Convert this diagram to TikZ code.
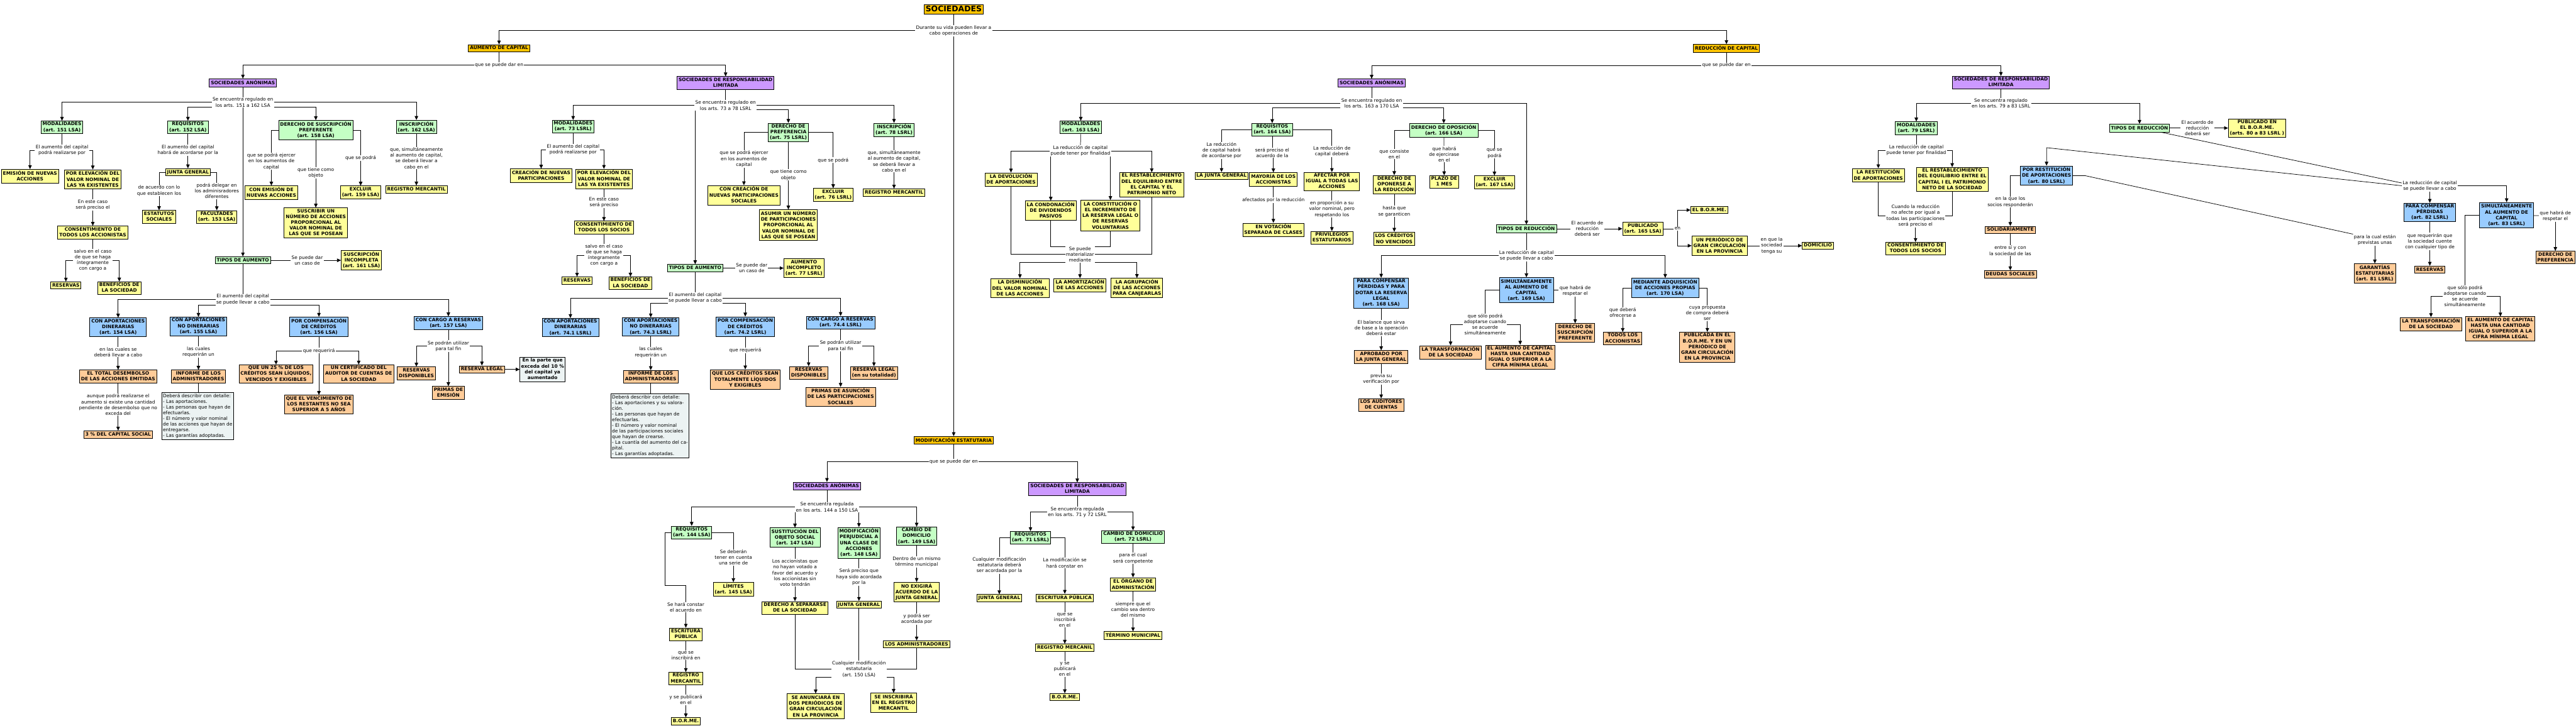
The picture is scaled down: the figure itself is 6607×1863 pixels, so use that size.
\documentclass[tikz,border=0pt]{standalone}
\usepackage{fontspec}
\setmainfont{DejaVu Sans}
\usetikzlibrary{arrows.meta,backgrounds}
\definecolor{cttl}{RGB}{255,196,0}
\definecolor{cpur}{RGB}{204,153,255}
\definecolor{cgrn}{RGB}{196,255,196}
\definecolor{cyel}{RGB}{255,255,153}
\definecolor{cblu}{RGB}{153,204,255}
\definecolor{corg}{RGB}{255,204,153}
\definecolor{cnote}{RGB}{236,243,243}
\tikzset{
  bx/.style={draw=black,line width=1.4pt,font=\bfseries\fontsize{12}{14.8}\selectfont,
    align=center,inner xsep=4pt,inner ysep=3pt,
    execute at begin node={\rule{0pt}{9.5pt}},
    execute at end node={\rule[-3pt]{0pt}{3pt}}},
  ttl/.style={bx,fill=cttl},
  pur/.style={bx,fill=cpur},
  grn/.style={bx,fill=cgrn},
  yel/.style={bx,fill=cyel},
  blu/.style={bx,fill=cblu},
  org/.style={bx,fill=corg},
  nte/.style={bx,fill=cnote,font=\fontsize{12}{14.6}\selectfont,align=left,inner xsep=3pt},
  lbl/.style={font=\fontsize{12}{14.8}\selectfont,align=center,fill=white,inner xsep=2pt,inner ysep=1pt},
  con/.style={line width=1.2pt},
  arr/.style={line width=1.2pt,-{Triangle[length=10pt,width=9pt]}}
}
\begin{document}
\begin{tikzpicture}[x=1pt,y=-1pt]
\useasboundingbox (0,0) rectangle (6607,1863);
% ===== top
\node[ttl,font=\bfseries\fontsize{20}{24}\selectfont] (SOC) at (2446,24) {SOCIEDADES};
\node[lbl] (L0) at (2446,78.5) {Durante su vida pueden llevar a\\cabo operaciones de};
\node[ttl] (AUM) at (1280,124) {AUMENTO DE CAPITAL};
\node[ttl] (RED) at (4428,124) {REDUCCIÓN DE CAPITAL};
\node[ttl] (MODE) at (2446,1130) {MODIFICACIÓN ESTATUTARIA};
% ===== aumento SA
\node[lbl] (Laum) at (1280,167) {que se puede dar en};
\node[pur] (SAA) at (623,212.5) {SOCIEDADES ANÓNIMAS};
\node[pur] (SRLA) at (1861,213) {SOCIEDADES DE RESPONSABILIDAD\\LIMITADA};
\node[lbl] (Lsaa) at (623,262.5) {Se encuentra regulado en\\los arts. 151 a 162 LSA};
\node[grn] (MOD151) at (159,327) {MODALIDADES\\(art. 151 LSA)};
\node[grn] (REQ152) at (482,327) {REQUISITOS\\(art. 152 LSA)};
\node[grn] (DSP158) at (810,334) {DERECHO DE SUSCRIPCIÓN\\PREFERENTE\\(art. 158 LSA)};
\node[grn] (INS162) at (1068,326) {INSCRIPCIÓN\\(art. 162 LSA)};
\node[lbl] (Lm151) at (159,385.5) {El aumento del capital\\podrá realizarse por};
\node[yel] (EMI) at (77,452) {EMISIÓN DE NUEVAS\\ACCIONES};
\node[yel] (ELEV) at (238,460.5) {POR ELEVACIÓN DEL\\VALOR NOMINAL DE\\LAS YA EXISTENTES};
\node[lbl] (Lelev) at (238,526) {En este caso\\será preciso el};
\node[yel] (CACC) at (238,596.5) {CONSENTIMIENTO DE\\TODOS LOS ACCIONISTAS};
\node[lbl] (Lcacc) at (238,668) {salvo en el caso\\de que se haga\\íntegramente\\con cargo a};
\node[yel] (RES1) at (169,732.6) {RESERVAS};
\node[yel] (BEN1) at (306,739.6) {BENEFICIOS DE\\LA SOCIEDAD};
\node[lbl] (Lr152) at (482,386) {El aumento del capital\\habrá de acordarse por la};
\node[yel] (JG1) at (482,442) {JUNTA GENERAL};
\node[lbl] (Ljga) at (408,489.6) {de acuerdo con lo\\que establecen los};
\node[lbl] (Ljgb) at (556,490) {podrá delegar en\\los adminisradores\\diferentes};
\node[yel] (EST) at (408,556.5) {ESTATUTOS\\SOCIALES};
\node[yel] (FAC) at (556,556.7) {FACULTADES\\(art. 153 LSA)};
\node[lbl] (Ld1) at (696,414) {que se podrá ejercer\\en los aumentos de\\capital};
\node[yel] (CEM) at (696,494.5) {CON EMISIÓN DE\\NUEVAS ACCIONES};
\node[lbl] (Ld2) at (810,443) {que tiene como\\objeto};
\node[yel] (SUSC) at (810,572) {SUSCRIBIR UN\\NÚMERO DE ACCIONES\\PROPORCIONAL AL\\VALOR NOMINAL DE\\LAS QUE SE POSEAN};
\node[lbl] (Ld3) at (925,405) {que se podrá};
\node[yel] (EXC159) at (925,493.6) {EXCLUIR\\(art. 159 LSA)};
\node[lbl] (Li162) at (1068,405.6) {que, simultáneamente\\al aumento de capital,\\se deberá llevar a\\cabo en el};
\node[yel] (RM1) at (1068,486) {REGISTRO MERCANTIL};
\node[grn] (TASA) at (623,668) {TIPOS DE AUMENTO};
\node[lbl] (Ltsa) at (788,668) {Se puede dar\\un caso de};
\node[yel] (SINC) at (927,668) {SUSCRIPCIÓN\\INCOMPLETA\\(art. 161 LSA)};
\node[lbl] (Ltsa2) at (623,768.6) {El aumento del capital\\se puede llevar a cabo};
\node[blu] (CAD154) at (303,839.6) {CON APORTACIONES\\DINERARIAS\\(art. 154 LSA)};
\node[blu] (CAND155) at (509,837.6) {CON APORTACIONES\\NO DINERARIAS\\(art. 155 LSA)};
\node[blu] (PCC156) at (818,838.6) {POR COMPENSACIÓN\\DE CRÉDITOS\\(art. 156 LSA)};
\node[blu] (CCR157) at (1150,829) {CON CARGO A RESERVAS\\(art. 157 LSA)};
\node[lbl] (Lc154) at (303,903) {en las cuales se\\deberá llevar a cabo};
\node[org] (TDES) at (303,966) {EL TOTAL DESEMBOLSO\\DE LAS ACCIONES EMITIDAS};
\node[lbl] (Ltdes) at (303,1038.5) {aunque podrá realizarse el\\aumento si existe una cantidad\\pendiente de desembolso que no\\exceda del};
\node[org] (P3) at (303,1115) {3 \% DEL CAPITAL SOCIAL};
\node[lbl] (Lc155) at (509,903) {las cuales\\requerirán un};
\node[org] (INF1) at (509,966) {INFORME DE LOS\\ADMINISTRADORES};
\node[nte] (NOTE1) at (507,1068) {Deberá describir con detalle:\\- Las aportaciones.\\- Las personas que hayan de\\efectuarlas.\\- El número y valor nominal\\de las acciones que hayan de\\entregarse.\\- Las garantías adoptadas.};
\node[lbl] (Lc156) at (818,900) {que requerirá};
\node[org] (Q25) at (708,960) {QUE UN 25 \% DE LOS\\CRÉDITOS SEAN LÍQUIDOS,\\VENCIDOS Y EXIGIBLES};
\node[org] (CERT) at (920,960) {UN CERTIFICADO DEL\\AUDITOR DE CUENTAS DE\\LA SOCIEDAD};
\node[org] (VENC) at (818,1038) {QUE EL VENCIMIENTO DE\\LOS RESTANTES NO SEA\\SUPERIOR A 5 AÑOS};
\node[lbl] (Lc157) at (1150,888) {Se podrán utilizar\\para tal fin};
\node[org] (RDISP1) at (1068,958) {RESERVAS\\DISPONIBLES};
\node[org] (RLEG1) at (1236,948) {RESERVA LEGAL};
\node[org] (PRIM1) at (1150,1008) {PRIMAS DE\\EMISIÓN};
\node[nte,font=\bfseries\fontsize{12}{14.8}\selectfont,align=center] (NOTE2) at (1391.5,948) {En la parte que\\exceda del 10 \%\\del capital ya\\aumentado};
% ===== aumento SRL
\node[lbl] (Lsrla) at (1861,270.5) {Se encuentra regulado en\\los arts. 73 a 78 LSRL};
\node[grn] (MOD73) at (1470,325) {MODALIDADES\\(art. 73 LSRL)};
\node[lbl] (Lm73) at (1470,384) {El aumento del capital\\podrá realizarse por};
\node[yel] (CRE) at (1388,451) {CREACIÓN DE NUEVAS\\PARTICIPACIONES};
\node[yel] (ELEV2) at (1549,459) {POR ELEVACIÓN DEL\\VALOR NOMINAL DE\\LAS YA EXISTENTES};
\node[lbl] (Lel2) at (1549,520) {En este caso\\será preciso};
\node[yel] (CSOC) at (1549,584) {CONSENTIMIENTO DE\\TODOS LOS SOCIOS};
\node[lbl] (Lcs) at (1549,655) {salvo en el caso\\de que se haga\\íntegramente\\con cargo a};
\node[yel] (RES2) at (1480,720) {RESERVAS};
\node[yel] (BEN2) at (1617,727) {BENEFICIOS DE\\LA SOCIEDAD};
\node[grn] (DP75) at (2022,340) {DERECHO DE\\PREFERENCIA\\(art. 75 LSRL)};
\node[lbl] (Ldp1) at (1908,408) {que se podrá ejercer\\en los aumentos de\\capital};
\node[yel] (CCR2) at (1908,501) {CON CREACIÓN DE\\NUEVAS PARTICIPACIONES\\SOCIALES};
\node[lbl] (Ldp2) at (2022,449) {que tiene como\\objeto};
\node[yel] (ASUM) at (2022,578) {ASUMIR UN NÚMERO\\DE PARTICIPACIONES\\PROPORCIONAL AL\\VALOR NOMINAL DE\\LAS QUE SE POSEAN};
\node[lbl] (Ldp3) at (2137,411) {que se podrá};
\node[yel] (EXC76) at (2137,500) {EXCLUIR\\(art. 76 LSRL)};
\node[grn] (INS78) at (2293,333.6) {INSCRIPCIÓN\\(art. 78 LSRL)};
\node[lbl] (Li78) at (2293,414) {que, simultáneamente\\al aumento de capital,\\se deberá llevar a\\cabo en el};
\node[yel] (RM2) at (2293,494) {REGISTRO MERCANTIL};
\node[grn] (TASRL) at (1783,688) {TIPOS DE AUMENTO};
\node[lbl] (Ltsr) at (1928,688) {Se puede dar\\un caso de};
\node[yel] (AINC) at (2062,688) {AUMENTO\\INCOMPLETO\\(art. 77 LSRL)};
\node[lbl] (Ltsr2) at (1783,764.6) {El aumento del capital\\se puede llevar a cabo};
\node[blu] (CAD741) at (1463,840.6) {CON APORTACIONES\\DINERARIAS\\(art. 74.1 LSRL)};
\node[blu] (CAND743) at (1669,839) {CON APORTACIONES\\NO DINERARIAS\\(art. 74.3 LSRL)};
\node[blu] (PCC742) at (1911.5,838) {POR COMPENSACIÓN\\DE CRÉDITOS\\(art. 74.2 LSRL)};
\node[blu] (CCR744) at (2156,828) {CON CARGO A RESERVAS\\(art. 74.4 LSRL)};
\node[lbl] (Lc743) at (1669,904) {las cuales\\requerirán un};
\node[org] (INF2) at (1669,967) {INFORME DE LOS\\ADMINISTRADORES};
\node[nte] (NOTE3) at (1667,1093) {Deberá describir con detalle:\\- Las aportaciones y su valora-\\ción.\\- Las personas que hayan de\\efectuarlas.\\- El número y valor nominal\\de las participaciones sociales\\que hayan de crearse.\\- La cuantía del aumento del ca-\\pital.\\- Las garantías adoptadas.};
\node[lbl] (Lc742) at (1911.5,899) {que requerirá};
\node[org] (QLC) at (1911.5,973.6) {QUE LOS CRÉDITOS SEAN\\TOTALMENTE LÍQUIDOS\\Y EXIGIBLES};
\node[lbl] (Lc744) at (2156,887.5) {Se podrán utilizar\\para tal fin};
\node[org] (RDISP2) at (2074,957) {RESERVAS\\DISPONIBLES};
\node[org] (RLEG2) at (2241.5,957) {RESERVA LEGAL\\(en su totalidad)};
\node[org] (PRIM2) at (2156,1018.5) {PRIMAS DE ASUNCIÓN\\DE LAS PARTICIPACIONES\\SOCIALES};
% ===== reduccion SA
\node[lbl] (Lred) at (4428,167.6) {que se puede dar en};
\node[pur] (SAR) at (3518,213) {SOCIEDADES ANÓNIMAS};
\node[pur] (SRLR) at (5132,212) {SOCIEDADES DE RESPONSABILIDAD\\LIMITADA};
\node[lbl] (Lsar) at (3518,264.6) {Se encuentra regulado en\\los arts. 163 a 170 LSA};
\node[grn] (MOD163) at (2772,327) {MODALIDADES\\(art. 163 LSA)};
\node[lbl] (Lm163) at (2771,387) {La reducción de capital\\puede tener por finalidad};
\node[yel] (DEV) at (2593,461) {LA DEVOLUCIÓN\\DE APORTACIONES};
\node[yel] (REST) at (2954,474) {EL RESTABLECIMIENTO\\DEL EQUILIBRIO ENTRE\\EL CAPITAL Y EL\\PATRIMONIO NETO};
\node[yel] (COND) at (2695,540.6) {LA CONDONACIÓN\\DE DIVIDENDOS\\PASIVOS};
\node[yel] (CONST) at (2848,553.7) {LA CONSTITUCIÓN O\\EL INCREMENTO DE\\LA RESERVA LEGAL O\\DE RESERVAS\\VOLUNTARIAS};
\node[lbl] (Lmat) at (2770,653) {Se puede\\materializar\\mediante};
\node[yel] (DISM) at (2616,739.6) {LA DISMINUCIÓN\\DEL VALOR NOMINAL\\DE LAS ACCIONES};
\node[yel] (AMORT) at (2770,732) {LA AMORTIZACIÓN\\DE LAS ACCIONES};
\node[yel] (AGRUP) at (2916,739) {LA AGRUPACIÓN\\DE LAS ACCIONES\\PARA CANJEARLAS};
\node[grn] (REQ164) at (3263,333) {REQUISITOS\\(art. 164 LSA)};
\node[lbl] (Ljgr) at (3133,386) {La reducción\\de capital habrá\\de acordarse por};
\node[yel] (JGR) at (3133,451.5) {LA JUNTA GENERAL};
\node[lbl] (Lreq) at (3263,392) {será preciso el\\acuerdo de la};
\node[yel] (MAYOR) at (3266,460.5) {MAYORÍA DE LOS\\ACCIONISTAS};
\node[lbl] (Lmay) at (3266,514) {afectados por la reducción};
\node[yel] (VOTS) at (3266,590) {EN VOTACIÓN\\SEPARADA DE CLASES};
\node[lbl] (Lafe) at (3416,389) {La reducción de\\capital deberá};
\node[yel] (AFECT) at (3416,466) {AFECTAR POR\\IGUAL A TODAS LAS\\ACCIONES};
\node[lbl] (Lafe2) at (3416,536.6) {en proporción a su\\valor nominal, pero\\respetando los};
\node[yel] (PRIV) at (3416,610) {PRIVILEGIOS\\ESTATUTARIOS};
\node[grn] (DOPOS) at (3703,334.6) {DERECHO DE OPOSICIÓN\\(art. 166 LSA)};
\node[lbl] (Ldo1) at (3576,395.6) {que consiste\\en el};
\node[yel] (DOP) at (3576,474) {DERECHO DE\\OPONERSE A\\LA REDUCCIÓN};
\node[lbl] (Ldo2) at (3704,395.6) {que habrá\\de ejercirase\\en el};
\node[yel] (PLAZO) at (3704,467) {PLAZO DE\\1 MES};
\node[lbl] (Ldo3) at (3833,394) {que se\\podrá};
\node[yel] (EXC167) at (3833,467.5) {EXCLUIR\\(art. 167 LSA)};
\node[lbl] (Ldop) at (3576,542.6) {hasta que\\se garanticen};
\node[yel] (LCNV) at (3576,613) {LOS CRÉDITOS\\NO VENCIDOS};
\node[grn] (TRSA) at (3915,587) {TIPOS DE REDUCCIÓN};
\node[lbl] (Ltrs1) at (4071,587) {El acuerdo de\\reducción\\deberá ser};
\node[yel] (PUB165) at (4213.6,587) {PUBLICADO\\(art. 165 LSA)};
\node[lbl] (Len) at (4302.6,587) {en};
\node[yel] (BORME1) at (4384,539) {EL B.O.R.ME.};
\node[yel] (PER1) at (4410.5,630.5) {UN PERIÓDICO DE\\GRAN CIRCULACIÓN\\EN LA PROVINCIA};
\node[lbl] (Lper) at (4544,630.5) {en que la\\sociedad\\tenga su};
\node[yel] (DOM) at (4662.6,630.5) {DOMICILIO};
\node[lbl] (Ltrs2) at (3915,656) {La reducción de capital\\se puede llevar a cabo};
\node[blu] (PCP168) at (3542.5,752) {PARA COMPENSAR\\PÉRDIDAS Y PARA\\DOTAR LA RESERVA\\LEGAL\\(art. 168 LSA)};
\node[blu] (SIM169) at (3915,744.6) {SIMULTÁNEAMENTE\\AL AUMENTO DE\\CAPITAL\\(art. 169 LSA)};
\node[blu] (MAP170) at (4271,738.8) {MEDIANTE ADQUISICIÓN\\DE ACCIONES PROPIAS\\(art. 170 LSA)};
\node[lbl] (Lpcp) at (3542.5,841.6) {El balance que sirva\\de base a la operación\\deberá estar};
\node[org] (APROB) at (3542.5,916) {APROBADO POR\\LA JUNTA GENERAL};
\node[lbl] (Lapr) at (3542.5,972.6) {previa su\\verificación por};
\node[org] (AUD) at (3542.5,1039.5) {LOS AUDITORES\\DE CUENTAS};
\node[lbl] (Lsim1) at (3809,832.7) {que sólo podrá\\adoptarse cuando\\se acuerde\\simultáneamente};
\node[org] (TRANS1) at (3720.5,904.7) {LA TRANSFORMACIÓN\\DE LA SOCIEDAD};
\node[org] (AUMCAP1) at (3899,916.6) {EL AUMENTO DE CAPITAL\\HASTA UNA CANTIDAD\\IGUAL O SUPERIOR A LA\\CIFRA MÍNIMA LEGAL};
\node[lbl] (Lsim2) at (4040,746) {que habrá de\\respetar el};
\node[org] (DSP2) at (4040,854) {DERECHO DE\\SUSCRIPCIÓN\\PREFERENTE};
\node[lbl] (Lmap1) at (4162,801.5) {que deberá\\ofrecerse a};
\node[org] (TLA) at (4162,869) {TODOS LOS\\ACCIONISTAS};
\node[lbl] (Lmap2) at (4379,803.5) {cuya propuesta\\de compra deberá\\ser};
\node[org] (PUBL2) at (4379,891) {PUBLICADA EN EL\\B.O.R.ME. Y EN UN\\PERIÓDICO DE\\GRAN CIRCULACIÓN\\EN LA PROVINCIA};
% ===== reduccion SRL
\node[lbl] (Lsrlr) at (5132,264.6) {Se encuentra regulado\\en los arts. 79 a 83 LSRL};
\node[grn] (MOD79) at (4915,329) {MODALIDADES\\(art. 79 LSRL)};
\node[lbl] (Lm79) at (4915,385.6) {La reducción de capital\\puede tener por finalidad};
\node[yel] (REST79) at (4817.5,450) {LA RESTITUCIÓN\\DE APORTACIONES};
\node[yel] (RESTAB79) at (5007,460.7) {EL RESTABLECIMIENTO\\DEL EQUILIBRIO ENTRE EL\\CAPITAL I EL PATRIMONIO\\NETO DE LA SOCIEDAD};
\node[lbl] (Lcons) at (4913,553.7) {Cuando la reducción\\no afecte por igual a\\todas las participaciones\\será preciso el};
\node[yel] (CTS2) at (4913,638) {CONSENTIMIENTO DE\\TODOS LOS SOCIOS};
\node[grn] (TRSRL) at (5487.5,328.6) {TIPOS DE REDUCCIÓN};
\node[lbl] (Ltrsr1) at (5636,328.6) {El acuerdo de\\reducción\\deberá ser};
\node[yel] (PUB2) at (5789,328.6) {PUBLICADO EN\\EL B.O.R.ME.\\(arts. 80 a 83 LSRL )};
\node[lbl] (Ltrsr2) at (6232,476.6) {La reducción de capital\\se puede llevar a cabo};
\coordinate (k1) at (5249,379);
\node[blu] (PRA80) at (5249,450.7) {POR RESTITUCIÓN\\DE APORTACIONES\\(art. 80 LSRL)};
\node[lbl] (Lpra1) at (5156,518.6) {en la que los\\socios responderán};
\node[org] (SOLID) at (5156,590) {SOLIDARIAMENTE};
\node[lbl] (Lsol) at (5156,643) {entre sí y con\\la sociedad de las};
\node[org] (DEUD) at (5156,703.6) {DEUDAS SOCIALES};
\coordinate (k2) at (5349,451);
\node[lbl] (Lgar) at (6091,615.5) {para la cual están\\previstas unas};
\node[org] (GAR) at (6091,701.7) {GARANTÍAS\\ESTATUTARIAS\\(art. 81 LSRL)};
\node[blu] (PCP82) at (6232,545) {PARA COMPENSAR\\PÉRDIDAS\\(art. 82 LSRL)};
\node[lbl] (Lp82) at (6232,619.6) {que requerirán que\\la sociedad cuente\\con cualquier tipo de};
\node[org] (RES3) at (6232,692) {RESERVAS};
\node[blu] (SIM83) at (6429,552) {SIMULTÁNEAMENTE\\AL AUMENTO DE\\CAPITAL\\(art. 83 LSRL)};
\node[lbl] (Ls83b) at (6554,554) {que habrá de\\respetar el};
\node[org] (DPREF) at (6554,661) {DERECHO DE\\PREFERENCIA};
\node[lbl] (Ls83a) at (6322,760) {que sólo podrá\\adoptarse cuando\\se acuerde\\simultáneamente};
\node[org] (TRANS2) at (6235,832) {LA TRANSFORMACIÓN\\DE LA SOCIEDAD};
\node[org] (AUMCAP2) at (6413,844) {EL AUMENTO DE CAPITAL\\HASTA UNA CANTIDAD\\IGUAL O SUPERIOR A LA\\CIFRA MÍNIMA LEGAL};
% ===== modificacion
\node[lbl] (Lmode) at (2446,1184.5) {que se puede dar en};
\node[pur] (SAM) at (2121,1247.5) {SOCIEDADES ANÓNIMAS};
\node[pur] (SRLM) at (2763,1255) {SOCIEDADES DE RESPONSABILIDAD\\LIMITADA};
\node[lbl] (Lsam) at (2121,1301.3) {Se encuentra regulada\\en los arts. 144 a 150 LSA};
\node[grn] (REQ144) at (1774,1366.6) {REQUISITOS\\(art. 144 LSA)};
\node[lbl] (Lr144) at (1881,1430.5) {Se deberán\\tener en cuenta\\una serie de};
\node[yel] (LIM) at (1881,1512) {LÍMITES\\(art. 145 LSA)};
\coordinate (k3) at (1705,1503);
\node[lbl] (Lr144b) at (1759,1558) {Se hará constar\\el acuerdo en};
\node[yel] (ESC1) at (1759,1628) {ESCRITURA\\PÚBLICA};
\node[lbl] (Lesc1) at (1759,1682) {que se\\inscribirá en};
\node[yel] (RM4) at (1759,1741.5) {REGISTRO\\MERCANTIL};
\node[lbl] (Lrm4) at (1759,1796) {y se publicará\\en el};
\node[yel] (BORME4) at (1759,1851) {B.O.R.ME.};
\node[grn] (SUST) at (2039,1379.6) {SUSTITUCIÓN DEL\\OBJETO SOCIAL\\(art. 147 LSA)};
\node[lbl] (Lsust) at (2039,1470) {Los accionistas que\\no hayan votado a\\favor del acuerdo y\\los accionistas sin\\voto tendrán};
\node[yel] (DAS) at (2039,1560) {DERECHO A SEPARARSE\\DE LA SOCIEDAD};
\node[grn] (MPC) at (2203,1393) {MODIFICACIÓN\\PERJUDICIAL A\\UNA CLASE DE\\ACCIONES\\(art. 148 LSA)};
\node[lbl] (Lmpc) at (2203,1480.5) {Será preciso que\\haya sido acordada\\por la};
\node[yel] (JGM) at (2203,1552) {JUNTA GENERAL};
\node[grn] (CD149) at (2351,1376) {CAMBIO DE\\DOMICILIO\\(art. 149 LSA)};
\node[lbl] (Lcd) at (2351,1442) {Dentro de un mismo\\término municipal};
\node[yel] (NOEX) at (2351,1519) {NO EXIGIRÁ\\ACUERDO DE LA\\JUNTA GENERAL};
\node[lbl] (Lnoex) at (2351,1589) {y podrá ser\\acordada por};
\node[yel] (LADM) at (2351,1653.6) {LOS ADMINISTRADORES};
\node[lbl] (L150) at (2203,1717) {Cualquier modificación\\estatutaria\\(art. 150 LSA)};
\node[yel] (ANUN) at (2092,1812.6) {SE ANUNCIARÁ EN\\DOS PERIÓDICOS DE\\GRAN CIRCULACIÓN\\EN LA PROVINCIA};
\node[yel] (INSC) at (2292,1803.7) {SE INSCRIBIRÁ\\EN EL REGISTRO\\MERCANTIL};
\node[lbl] (Lsrlm) at (2763,1314) {Se encuentra regulada\\en los arts. 71 y 72 LSRL};
\node[grn] (REQ71) at (2643,1380) {REQUISITOS\\(art. 71 LSRL)};
\node[lbl] (Lr71a) at (2563,1451) {Cualquier modificación\\estatutaria deberá\\ser acordada por la};
\node[yel] (JGM2) at (2563,1535) {JUNTA GENERAL};
\node[lbl] (Lr71b) at (2731,1444.7) {La modificación se\\hará constar en};
\node[yel] (ESC2) at (2731,1534.6) {ESCRITURA PÚBLICA};
\node[lbl] (Lesc2) at (2731,1591) {que se\\inscribirá\\en el};
\node[yel] (RM3) at (2731,1662) {REGISTRO MERCANIL};
\node[lbl] (Lrm3) at (2731,1717) {y se\\publicará\\en el};
\node[yel] (BORME3) at (2731,1789) {B.O.R.ME.};
\node[grn] (CD72) at (2906,1378) {CAMBIO DE DOMICILIO\\(art. 72 LSRL)};
\node[lbl] (Lcd72) at (2906,1433) {para el cual\\será competente};
\node[yel] (ORG) at (2906,1500) {EL ÓRGANO DE\\ADMINISTACIÓN};
\node[lbl] (Lorg) at (2906,1564.6) {siempre que el\\cambio sea dentro\\del mismo};
\node[yel] (TMUN) at (2906,1631) {TÉRMINO MUNICIPAL};

\begin{pgfonlayer}{background}
\fill[white] (0,0) rectangle (6607,1863);
% top
\draw[con] (SOC) -- (L0);
\draw[arr] (L0) -| (AUM);
\draw[arr] (L0) -| (RED);
\draw[arr] (L0) -- (MODE);
% aumento SA
\draw[con] (AUM) -- (Laum);
\draw[arr] (Laum) -| (SAA);
\draw[arr] (Laum) -| (SRLA);
\draw[con] (SAA) -- (Lsaa);
\draw[arr] (Lsaa) -| (MOD151);
\draw[arr] ([yshift=-12.5pt]Lsaa.west) -| (REQ152);
\draw[arr] ([yshift=-12.5pt]Lsaa.east) -| (DSP158);
\draw[arr] (Lsaa) -| (INS162);
\draw[arr] (Lsaa) -- (TASA);
\draw[con] (MOD151) -- (Lm151);
\draw[arr] (Lm151) -| (EMI);
\draw[arr] (Lm151) -| (ELEV);
\draw[con] (ELEV) -- (Lelev);
\draw[arr] (Lelev) -- (CACC);
\draw[con] (CACC) -- (Lcacc);
\draw[arr] (Lcacc) -| (RES1);
\draw[arr] (Lcacc) -| (BEN1);
\draw[con] (REQ152) -- (Lr152);
\draw[arr] (Lr152) -- (JG1);
\draw[con] (JG1.west) -| (Ljga);
\draw[arr] (Ljga) -- (EST);
\draw[con] (JG1.east) -| (Ljgb);
\draw[arr] (Ljgb) -- (FAC);
\draw[con] (DSP158.west) -| (Ld1);
\draw[arr] (Ld1) -- (CEM);
\draw[con] (DSP158) -- (Ld2);
\draw[arr] (Ld2) -- (SUSC);
\draw[con] (DSP158.east) -| (Ld3);
\draw[arr] (Ld3) -- (EXC159);
\draw[con] (INS162) -- (Li162);
\draw[arr] (Li162) -- (RM1);
\draw[con] (TASA) -- (Ltsa);
\draw[arr] (Ltsa) -- (SINC);
\draw[con] (TASA) -- (Ltsa2);
\draw[arr] (Ltsa2) -| (CAD154);
\draw[arr] ([yshift=-14pt]Ltsa2.west) -| (CAND155);
\draw[arr] ([yshift=-14pt]Ltsa2.east) -| (PCC156);
\draw[arr] (Ltsa2) -| (CCR157);
\draw[con] (CAD154) -- (Lc154);
\draw[arr] (Lc154) -- (TDES);
\draw[con] (TDES) -- (Ltdes);
\draw[arr] (Ltdes) -- (P3);
\draw[con] (CAND155) -- (Lc155);
\draw[arr] (Lc155) -- (INF1);
\draw[con] (INF1) -- (INF1 |- NOTE1.north);
\draw[con] (PCC156) -- (Lc156);
\draw[arr] (Lc156) -| (Q25);
\draw[arr] (Lc156) -| (CERT);
\draw[arr] (Lc156) -- (VENC);
\draw[con] (CCR157) -- (Lc157);
\draw[arr] (Lc157) -| (RDISP1);
\draw[arr] (Lc157) -| (RLEG1);
\draw[arr] (Lc157) -- (PRIM1);
\draw[arr] (RLEG1) -- (NOTE2);
% aumento SRL
\draw[con] (SRLA) -- (Lsrla);
\draw[arr] (Lsrla) -| (MOD73);
\draw[arr] ([yshift=-11.5pt]Lsrla.east) -| (DP75);
\draw[arr] (Lsrla) -| (INS78);
\draw[arr] (Lsrla.south -| TASRL) -- (TASRL);
\draw[con] (MOD73) -- (Lm73);
\draw[arr] (Lm73) -| (CRE);
\draw[arr] (Lm73) -| (ELEV2);
\draw[con] (ELEV2) -- (Lel2);
\draw[arr] (Lel2) -- (CSOC);
\draw[con] (CSOC) -- (Lcs);
\draw[arr] (Lcs) -| (RES2);
\draw[arr] (Lcs) -| (BEN2);
\draw[con] (DP75.west) -| (Ldp1);
\draw[arr] (Ldp1) -- (CCR2);
\draw[con] (DP75) -- (Ldp2);
\draw[arr] (Ldp2) -- (ASUM);
\draw[con] (DP75.east) -| (Ldp3);
\draw[arr] (Ldp3) -- (EXC76);
\draw[con] (INS78) -- (Li78);
\draw[arr] (Li78) -- (RM2);
\draw[con] (TASRL) -- (Ltsr);
\draw[arr] (Ltsr) -- (AINC);
\draw[con] (TASRL) -- (Ltsr2);
\draw[arr] (Ltsr2) -| (CAD741);
\draw[arr] ([yshift=-14pt]Ltsr2.west) -| (CAND743);
\draw[arr] ([yshift=-14pt]Ltsr2.east) -| (PCC742);
\draw[arr] (Ltsr2) -| (CCR744);
\draw[con] (CAND743) -- (Lc743);
\draw[arr] (Lc743) -- (INF2);
\draw[con] (INF2) -- (INF2 |- NOTE3.north);
\draw[con] (PCC742) -- (Lc742);
\draw[arr] (Lc742) -- (QLC);
\draw[con] (CCR744) -- (Lc744);
\draw[arr] (Lc744) -| (RDISP2);
\draw[arr] (Lc744) -| (RLEG2);
\draw[arr] (Lc744) -- (PRIM2);
% reduccion SA
\draw[con] (RED) -- (Lred);
\draw[arr] (Lred) -| (SAR);
\draw[arr] (Lred) -| (SRLR);
\draw[con] (SAR) -- (Lsar);
\draw[arr] (Lsar) -| (MOD163);
\draw[arr] ([yshift=-11.5pt]Lsar.west) -| (REQ164);
\draw[arr] ([yshift=-11.5pt]Lsar.east) -| (DOPOS);
\draw[arr] (Lsar) -| (TRSA);
\draw[con] (MOD163) -- (Lm163);
\draw[arr] (Lm163) -| (DEV);
\draw[arr] (Lm163) -| (REST);
\draw[arr] (Lm163.south -| COND) -- (COND);
\draw[arr] (Lm163.south -| CONST) -- (CONST);
\draw[con] (COND) |- (Lmat.north);
\draw[con] (CONST) |- (Lmat.north);
\draw[con] (DEV) |- (Lmat);
\draw[con] (REST) |- (Lmat);
\draw[arr] ([yshift=-20pt]Lmat.west) -| (DISM);
\draw[arr] ([yshift=-20pt]Lmat.east) -| (AGRUP);
\draw[arr] (Lmat) -- (AMORT);
\draw[con] (REQ164.west) -| (Ljgr);
\draw[arr] (Ljgr) -- (JGR);
\draw[con] (REQ164) -- (Lreq);
\draw[arr] (Lreq.south -| MAYOR) -- (MAYOR);
\draw[con] (MAYOR) -- (Lmay);
\draw[arr] (Lmay) -- (VOTS);
\draw[con] (REQ164.east) -| (Lafe);
\draw[arr] (Lafe) -- (AFECT);
\draw[con] (AFECT) -- (Lafe2);
\draw[arr] (Lafe2) -- (PRIV);
\draw[con] (DOPOS.west) -| (Ldo1);
\draw[arr] (Ldo1) -- (DOP);
\draw[con] (DOPOS) -- (Ldo2);
\draw[arr] (Ldo2) -- (PLAZO);
\draw[con] (DOPOS.east) -| (Ldo3);
\draw[arr] (Ldo3) -- (EXC167);
\draw[con] (DOP) -- (Ldop);
\draw[arr] (Ldop) -- (LCNV);
\draw[con] (TRSA) -- (Ltrs1);
\draw[arr] (Ltrs1) -- (PUB165);
\draw[con] (PUB165) -- (Len);
\draw[arr] (Len) |- (BORME1);
\draw[arr] (Len) |- (PER1);
\draw[con] (PER1) -- (Lper);
\draw[arr] (Lper) -- (DOM);
\draw[con] (TRSA) -- (Ltrs2);
\draw[arr] (Ltrs2) -| (PCP168);
\draw[arr] (Ltrs2) -- (SIM169);
\draw[arr] (Ltrs2) -| (MAP170);
\draw[con] (PCP168) -- (Lpcp);
\draw[arr] (Lpcp) -- (APROB);
\draw[con] (APROB) -- (Lapr);
\draw[arr] (Lapr) -- (AUD);
\draw[con] (SIM169.west) -| (Lsim1);
\draw[arr] (Lsim1) -| (TRANS1);
\draw[arr] (Lsim1) -| (AUMCAP1);
\draw[con] (SIM169.east) -- (Lsim2.west |- SIM169.east);
\draw[arr] (Lsim2) -- (DSP2);
\draw[con] (MAP170.west) -| (Lmap1);
\draw[arr] (Lmap1) -- (TLA);
\draw[con] (MAP170.east) -| (Lmap2);
\draw[arr] (Lmap2) -- (PUBL2);
% reduccion SRL
\draw[con] (SRLR) -- (Lsrlr);
\draw[arr] (Lsrlr) -| (MOD79);
\draw[arr] (Lsrlr) -| (TRSRL);
\draw[con] (MOD79) -- (Lm79);
\draw[arr] (Lm79) -| (REST79);
\draw[arr] (Lm79) -| (RESTAB79);
\draw[con] (REST79) |- (Lcons);
\draw[con] (RESTAB79) |- (Lcons);
\draw[arr] (Lcons) -- (CTS2);
\draw[con] (TRSRL) -- (Ltrsr1);
\draw[arr] (Ltrsr1) -- (PUB2);
\draw[con] ([xshift=55pt]TRSRL.south) -- ([yshift=7pt]Ltrsr2.west);
\draw[arr] (Ltrsr2.west) -- (k1) -- (PRA80);
\draw[arr] (Ltrsr2) -- (PCP82);
\draw[arr] (Ltrsr2) -| (SIM83);
\draw[con] (PRA80.west) -| (Lpra1);
\draw[arr] (Lpra1) -- (SOLID);
\draw[con] (SOLID) -- (Lsol);
\draw[arr] (Lsol) -- (DEUD);
\draw[con] (PRA80.east) -- (k2) -- (Lgar.north west);
\draw[arr] (Lgar) -- (GAR);
\draw[con] (PCP82) -- (Lp82);
\draw[arr] (Lp82) -- (RES3);
\draw[con] (SIM83) -- (Ls83b);
\draw[arr] (Ls83b) -- (DPREF);
\draw[con] (SIM83.west) -| (Ls83a);
\draw[arr] (Ls83a) -| (TRANS2);
\draw[arr] (Ls83a) -| (AUMCAP2);
% modificacion
\draw[con] (MODE) -- (Lmode);
\draw[arr] (Lmode) -| (SAM);
\draw[arr] (Lmode) -| (SRLM);
\draw[con] (SAM) -- (Lsam);
\draw[arr] (Lsam) -| (REQ144);
\draw[arr] ([yshift=-14.5pt]Lsam.west) -| (SUST);
\draw[arr] ([yshift=-14.5pt]Lsam.east) -| (MPC);
\draw[arr] (Lsam) -| (CD149);
\draw[con] (REQ144.east) -| (Lr144);
\draw[arr] (Lr144) -- (LIM);
\draw[con] (REQ144.west) -| (k3) -| (Lr144b);
\draw[arr] (Lr144b) -- (ESC1);
\draw[con] (ESC1) -- (Lesc1);
\draw[arr] (Lesc1) -- (RM4);
\draw[con] (RM4) -- (Lrm4);
\draw[arr] (Lrm4) -- (BORME4);
\draw[con] (SUST) -- (Lsust);
\draw[arr] (Lsust) -- (DAS);
\draw[con] (MPC) -- (Lmpc);
\draw[arr] (Lmpc) -- (JGM);
\draw[con] (CD149) -- (Lcd);
\draw[arr] (Lcd) -- (NOEX);
\draw[con] (NOEX) -- (Lnoex);
\draw[arr] (Lnoex) -- (LADM);
\draw[con] (DAS) |- (L150);
\draw[con] (JGM) -- (L150);
\draw[con] (LADM) |- (L150);
\draw[arr] (L150.south west) -| (ANUN);
\draw[arr] (L150.south east) -| (INSC);
\draw[con] (SRLM) -- (Lsrlm);
\draw[arr] (Lsrlm) -| (REQ71);
\draw[arr] (Lsrlm) -| (CD72);
\draw[con] (REQ71.west) -| (Lr71a);
\draw[arr] (Lr71a) -- (JGM2);
\draw[con] (REQ71.east) -| (Lr71b);
\draw[arr] (Lr71b) -- (ESC2);
\draw[con] (ESC2) -- (Lesc2);
\draw[arr] (Lesc2) -- (RM3);
\draw[con] (RM3) -- (Lrm3);
\draw[arr] (Lrm3) -- (BORME3);
\draw[con] (CD72) -- (Lcd72);
\draw[arr] (Lcd72) -- (ORG);
\draw[con] (ORG) -- (Lorg);
\draw[arr] (Lorg) -- (TMUN);
\end{pgfonlayer}
\end{tikzpicture}
\end{document}
